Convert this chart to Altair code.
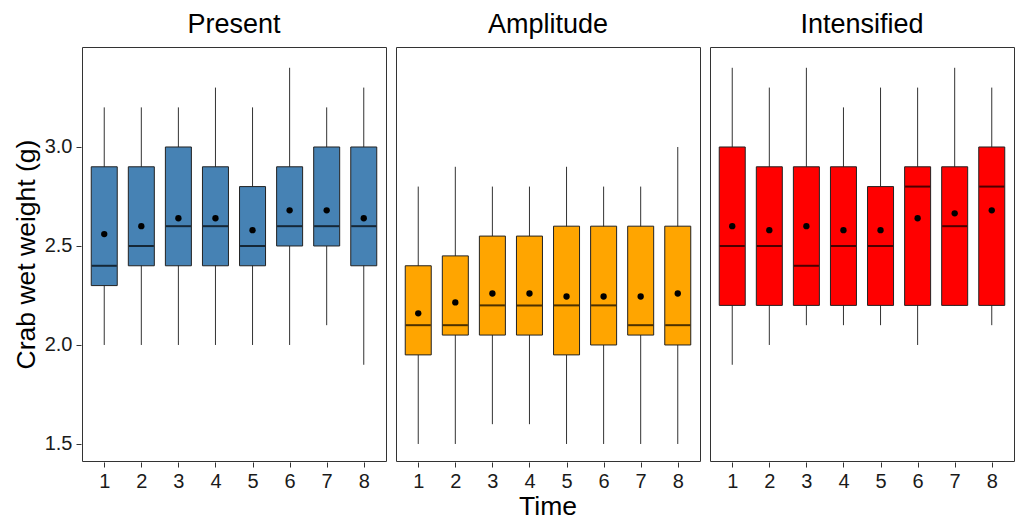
import altair as alt
import pandas as pd

scenarios = ["Present", "Amplitude", "Intensified"]
colors = ["#4682B4", "#FFA500", "#FF0000"]
times = [1, 2, 3, 4, 5, 6, 7, 8]

# Present
p_min = [2.0, 2.0, 2.0, 2.0, 2.0, 2.0, 2.1, 1.9]
p_q1 = [2.3, 2.4, 2.4, 2.4, 2.4, 2.5, 2.5, 2.4]
p_med = [2.4, 2.5, 2.6, 2.6, 2.5, 2.6, 2.6, 2.6]
p_q3 = [2.9, 2.9, 3.0, 2.9, 2.8, 2.9, 3.0, 3.0]
p_max = [3.2, 3.2, 3.2, 3.3, 3.2, 3.4, 3.2, 3.3]
p_mean = [2.56, 2.60, 2.64, 2.64, 2.58, 2.68, 2.68, 2.64]

# Amplitude
a_min = [1.5, 1.5, 1.6, 1.6, 1.5, 1.5, 1.5, 1.5]
a_q1 = [1.95, 2.05, 2.05, 2.05, 1.95, 2.0, 2.05, 2.0]
a_med = [2.1, 2.1, 2.2, 2.2, 2.2, 2.2, 2.1, 2.1]
a_q3 = [2.4, 2.45, 2.55, 2.55, 2.6, 2.6, 2.6, 2.6]
a_max = [2.8, 2.9, 2.8, 2.8, 2.9, 2.8, 2.8, 3.0]
a_mean = [2.16, 2.215, 2.26, 2.26, 2.245, 2.245, 2.245, 2.26]

# Intensified
i_min = [1.9, 2.0, 2.1, 2.1, 2.1, 2.0, 2.2, 2.1]
i_q1 = [2.2, 2.2, 2.2, 2.2, 2.2, 2.2, 2.2, 2.2]
i_med = [2.5, 2.5, 2.4, 2.5, 2.5, 2.8, 2.6, 2.8]
i_q3 = [3.0, 2.9, 2.9, 2.9, 2.8, 2.9, 2.9, 3.0]
i_max = [3.4, 3.3, 3.4, 3.2, 3.3, 3.3, 3.4, 3.3]
i_mean = [2.60, 2.58, 2.60, 2.58, 2.58, 2.64, 2.665, 2.68]

rows = []
for sc, mn, q1, md, q3, mx, me in [
    ("Present", p_min, p_q1, p_med, p_q3, p_max, p_mean),
    ("Amplitude", a_min, a_q1, a_med, a_q3, a_max, a_mean),
    ("Intensified", i_min, i_q1, i_med, i_q3, i_max, i_mean),
]:
    for k, t in enumerate(times):
        rows.append(dict(scenario=sc, time=t, lo=mn[k], q1=q1[k], med=md[k],
                         q3=q3[k], hi=mx[k], mean=me[k]))
df = pd.DataFrame(rows)

FONT = "Liberation Sans"
ydom = [1.414, 3.505]

x = alt.X("time:O", scale=alt.Scale(type="point", padding=0.6),
          axis=alt.Axis(title=None, labelAngle=0, labelFontSize=20, labelColor="#1a1a1a",
                        labelPadding=4, tickSize=5, tickColor="#333333", domain=False))
yscale = alt.Scale(domain=ydom, nice=False, zero=False)
yaxis = alt.Axis(title="Crab wet weight (g)", values=[1.5, 2.0, 2.5, 3.0], format=".1f",
                 labelFontSize=20, labelColor="#1a1a1a", labelPadding=4, tickSize=5,
                 tickColor="#333333", domain=False, grid=False, titleFontSize=26.5,
                 titleFontWeight="normal", titlePadding=4, titleColor="black")

base = alt.Chart(df)
whisk = base.mark_rule(color="#333333", strokeWidth=1).encode(
    x=x, y=alt.Y("lo:Q", scale=yscale, axis=yaxis), y2="hi:Q")
box = base.mark_bar(size=26, stroke="#222222", strokeWidth=1).encode(
    x=x, y=alt.Y("q1:Q", scale=yscale, axis=yaxis), y2="q3:Q",
    color=alt.Color("scenario:N", scale=alt.Scale(domain=scenarios, range=colors), legend=None))
med = base.mark_tick(size=25, thickness=2, color="black").encode(
    x=x, y=alt.Y("med:Q", scale=yscale, axis=yaxis))
mean = base.mark_point(filled=True, size=40, color="black", opacity=1).encode(
    x=x, y=alt.Y("mean:Q", scale=yscale, axis=yaxis))

layer = alt.layer(whisk, box, med, mean).properties(width=304, height=414)

chart = layer.facet(
    column=alt.Column("scenario:N", sort=scenarios, title="Time",
                      header=alt.Header(labelFontSize=27, labelFont=FONT,
                                        labelColor="black", labelPadding=7,
                                        labelOrient="top",
                                        titleOrient="bottom", titleFontSize=26.5,
                                        titleFontWeight="normal", titleFont=FONT,
                                        titleColor="black", titlePadding=-7))
).properties(
    padding={"left": 13, "top": 11, "right": 0, "bottom": 0},
).configure(font=FONT).configure_facet(spacing=8).configure_view(
    stroke="#333333", strokeWidth=1
)

chart.save("out.html", embed_options={"renderer": "svg", "actions": False})
